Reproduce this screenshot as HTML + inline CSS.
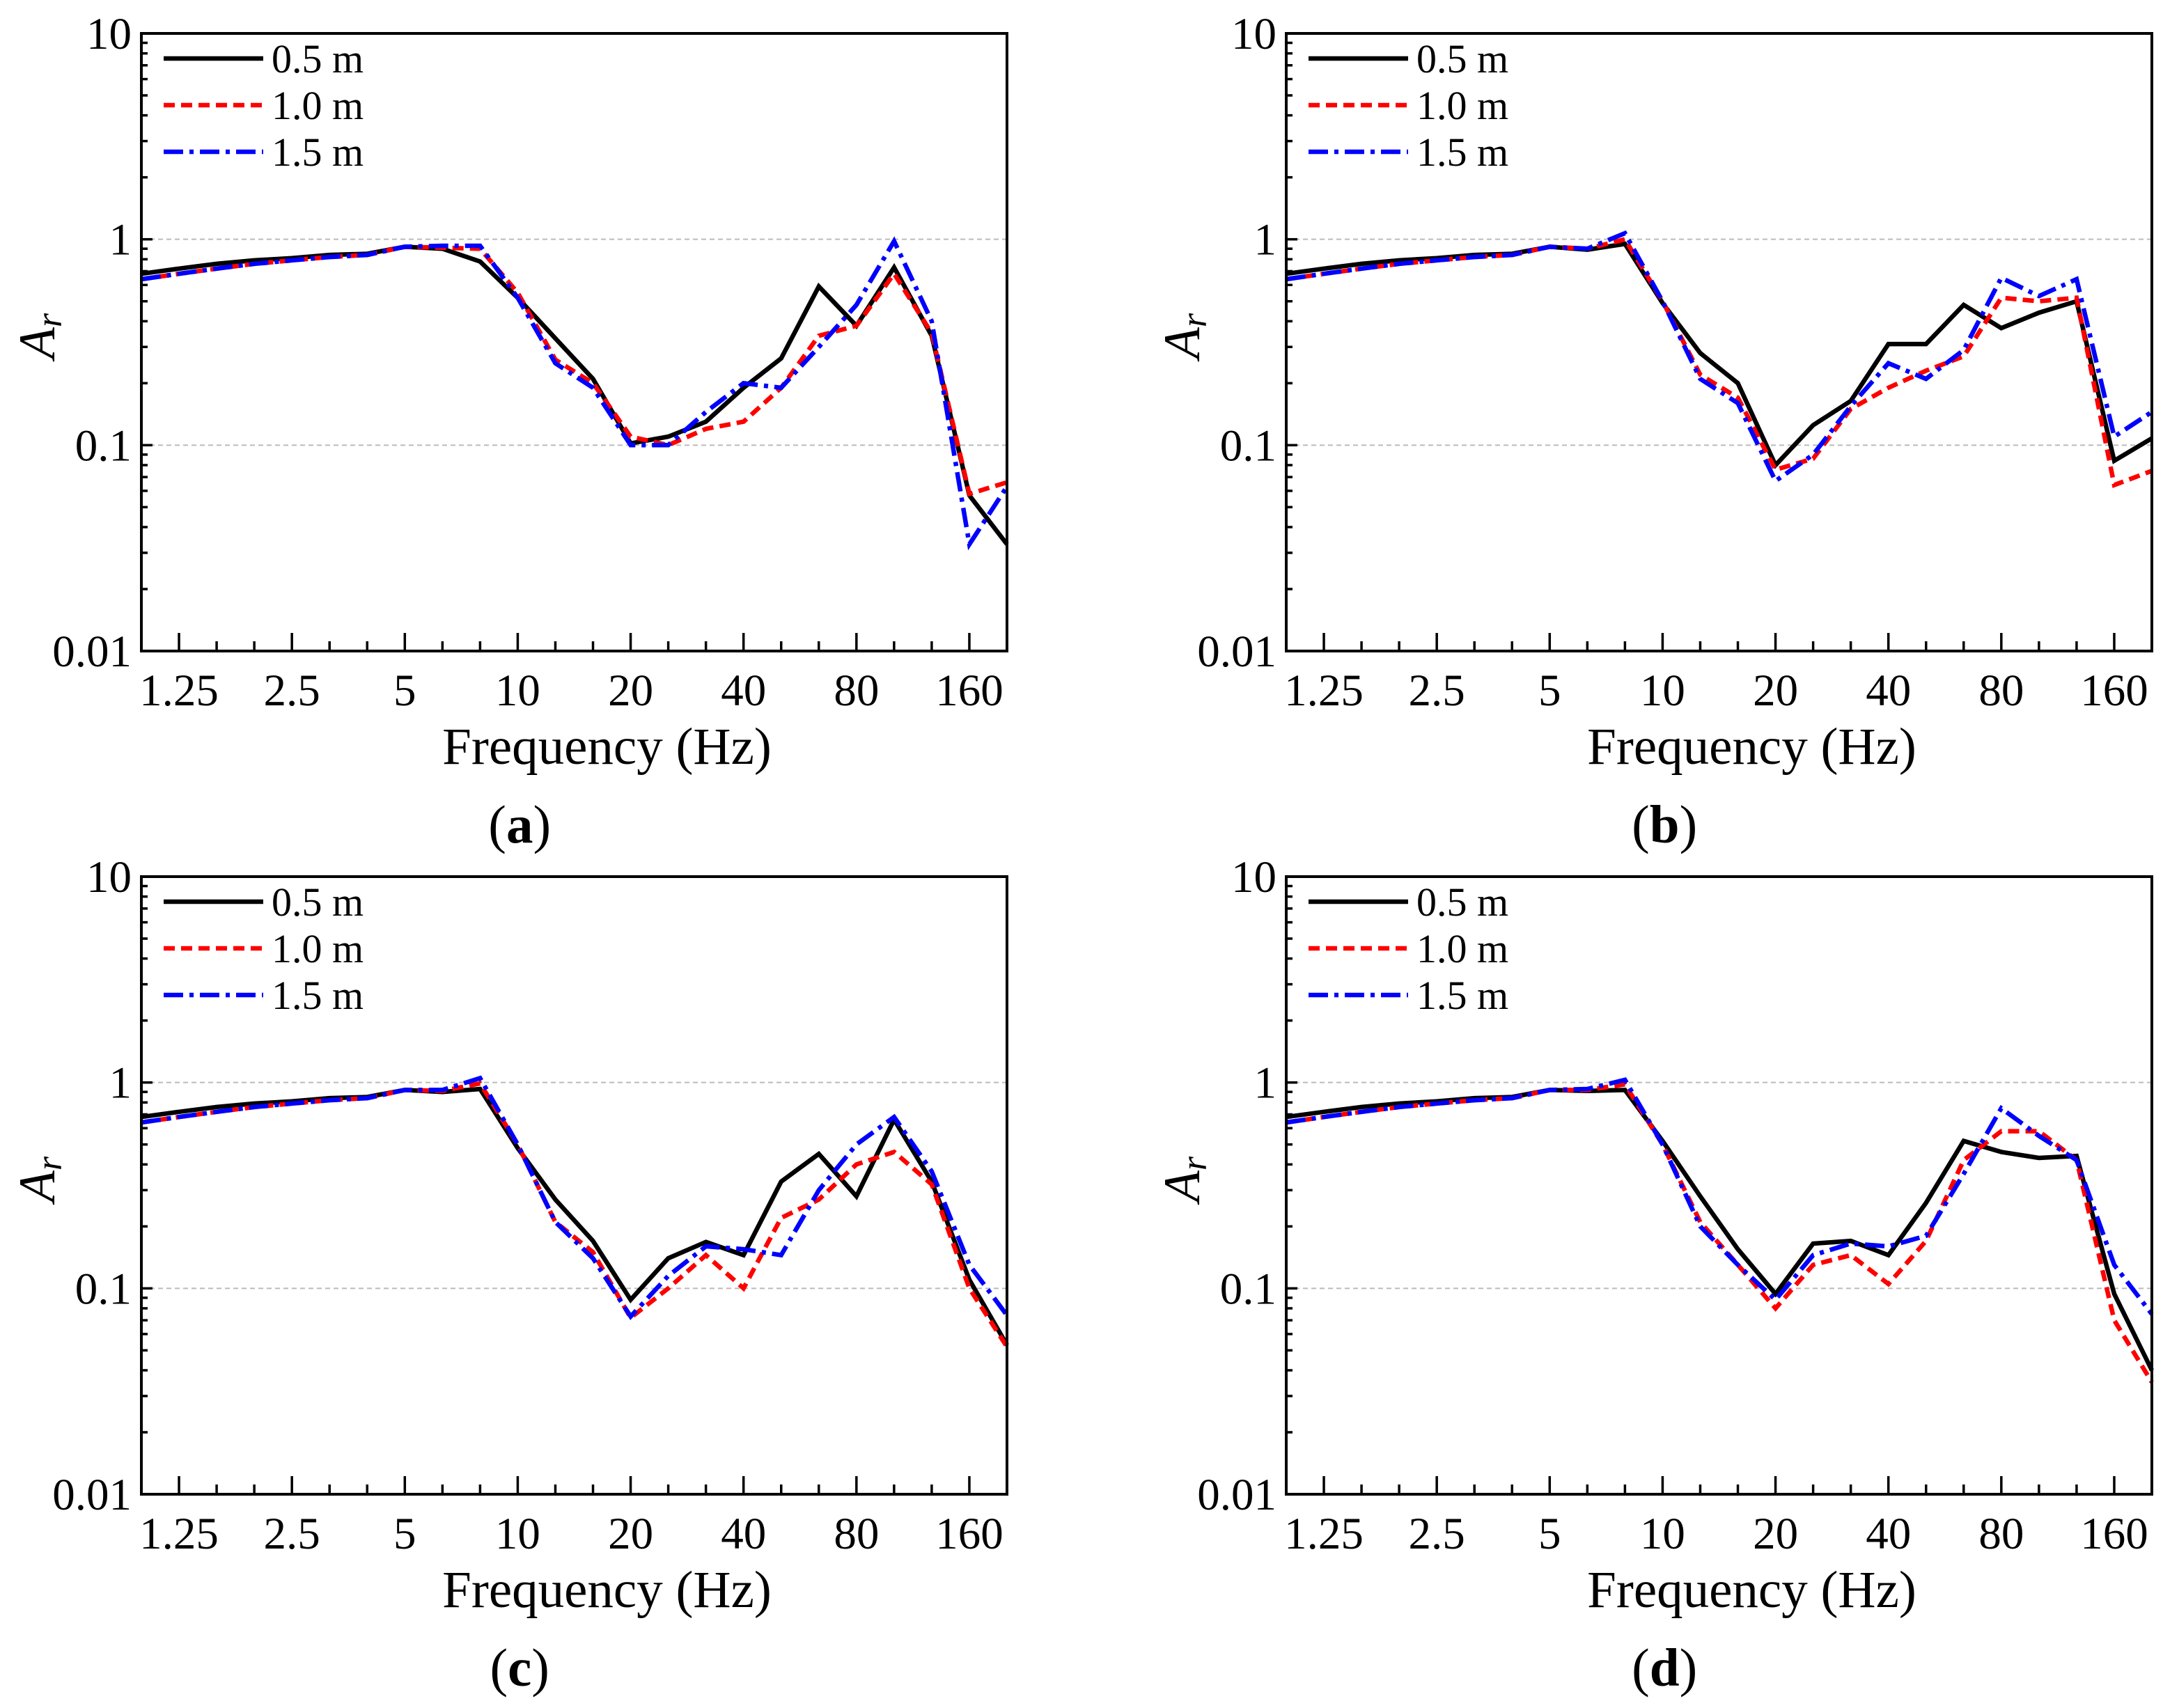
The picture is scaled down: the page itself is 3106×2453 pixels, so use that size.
<!DOCTYPE html>
<html><head><meta charset="utf-8"><style>
html,body{margin:0;padding:0;background:#fff;overflow:hidden}
svg{display:block}
text{font-family:"Liberation Serif",serif;fill:#000}
</style></head><body>
<svg id="chart" width="3106" height="2453" viewBox="0 0 3106 2453" xmlns="http://www.w3.org/2000/svg"></svg>
<script>
const freqs = ["1","1.25","1.6","2","2.5","3.15","4","5","6.3","8","10","12.5","16","20","25","31.5","40","50","63","80","100","125","160","200"];
const xTickLabels = ["1.25","2.5","5","10","20","40","80","160"];
const yTickValues = [0.01,0.1,1,10];
const yTickLabels = ["0.01","0.1","1","10"];
const seriesNames = ["0.5 m","1.0 m","1.5 m"];
const lowBlack = [0.68,0.72,0.76,0.79,0.81,0.84,0.85,0.92];
const lowOther = [0.64,0.68,0.72,0.76,0.79,0.82,0.84,0.92];
const aBlack = lowBlack.concat([0.90,0.78,0.52,0.33,0.21,0.102,0.11,0.13,0.19,0.264,0.59,0.38,0.73,0.34,0.057,0.033]);
const aRed   = lowOther.concat([0.91,0.90,0.55,0.26,0.20,0.11,0.10,0.12,0.13,0.19,0.34,0.38,0.68,0.35,0.058,0.066]);
const aBlue  = lowOther.concat([0.93,0.93,0.52,0.25,0.19,0.10,0.10,0.145,0.20,0.19,0.30,0.48,0.98,0.40,0.033,0.063]);
const bBlack = lowBlack.concat([0.89,0.95,0.49,0.28,0.20,0.08,0.125,0.164,0.31,0.31,0.48,0.37,0.44,0.50,0.084,0.108]);
const bRed   = lowOther.concat([0.90,1.00,0.50,0.22,0.17,0.076,0.086,0.15,0.19,0.23,0.27,0.52,0.50,0.52,0.064,0.075]);
const bBlue  = lowOther.concat([0.90,1.07,0.50,0.21,0.16,0.067,0.09,0.155,0.25,0.21,0.29,0.65,0.53,0.64,0.11,0.145]);
const cBlack = lowBlack.concat([0.90,0.93,0.48,0.27,0.17,0.088,0.14,0.168,0.145,0.33,0.45,0.28,0.66,0.33,0.11,0.053]);
const cRed   = lowOther.concat([0.91,0.99,0.50,0.21,0.15,0.072,0.10,0.145,0.10,0.22,0.27,0.40,0.46,0.32,0.10,0.052]);
const cBlue  = lowOther.concat([0.92,1.05,0.50,0.21,0.14,0.073,0.115,0.16,0.155,0.145,0.30,0.50,0.68,0.37,0.13,0.074]);
const dBlack = lowBlack.concat([0.91,0.92,0.52,0.28,0.155,0.094,0.165,0.17,0.145,0.26,0.52,0.46,0.43,0.44,0.094,0.04]);
const dRed   = lowOther.concat([0.92,0.98,0.50,0.21,0.13,0.08,0.13,0.145,0.105,0.17,0.42,0.58,0.58,0.42,0.07,0.035]);
const dBlue  = lowOther.concat([0.93,1.03,0.50,0.20,0.13,0.088,0.145,0.165,0.16,0.18,0.36,0.75,0.55,0.42,0.13,0.075]);

const panels = [
  {id:"a", ox:203, oy:48, data:[aBlack,aRed,aBlue]},
  {id:"b", ox:1847, oy:48, data:[bBlack,bRed,bBlue]},
  {id:"c", ox:203, oy:1259, data:[cBlack,cRed,cBlue]},
  {id:"d", ox:1847, oy:1259, data:[dBlack,dRed,dBlue]}
];
const W = 1243, H = 887;
const styles = [
  {color:"#000", dash:"", w:6.5},
  {color:"#ff0000", dash:"16,9", w:6.5},
  {color:"#0000ff", dash:"28,9,6,9", w:6.5}
];
const NS = "http://www.w3.org/2000/svg";
const svg = document.getElementById("chart");
function mk(tag, attrs, parent){const e=document.createElementNS(NS,tag);for(const k in attrs)e.setAttribute(k,attrs[k]);parent.appendChild(e);return e;}

panels.forEach(p=>{
  const g = mk("g",{},svg);
  
  
  const xs = i => p.ox + i*W/(freqs.length-1);
  const ys = v => p.oy + (1 - Math.log10(v)) * H/3;
  [0.1,1].forEach(v=>{
    const l = mk("line",{x1:p.ox,x2:p.ox+W,y1:ys(v),y2:ys(v),stroke:"#bbb","stroke-width":2,"stroke-dasharray":"7,5"},g);
    
    
  });
  for(let d=-2; d<1; d++){
    for(let m=1;m<10;m++){
      const v = m*Math.pow(10,d);
      const len = m===1?16:9;
      mk("line",{x1:p.ox,x2:p.ox+len,y1:ys(v),y2:ys(v),stroke:"#000","stroke-width":3.5},g);
    }
  }
  yTickValues.forEach((v,i)=>{
    const t = mk("text",{x:p.ox-14,y:ys(v)+22,"font-size":65,"text-anchor":"end"},g);
    t.textContent = yTickLabels[i];
    
    
  });
  freqs.forEach((f,i)=>{
    if(i===0||i===freqs.length-1) return;
    const major = (i-1)%3===0;
    mk("line",{x1:xs(i),x2:xs(i),y1:p.oy+H,y2:p.oy+H-(major?26:14),stroke:"#000","stroke-width":3.5},g);
  });
  xTickLabels.forEach((lab,k)=>{
    const i = 1+3*k;
    const t = mk("text",{x:xs(i),y:p.oy+H+78,"font-size":65,"text-anchor":"middle"},g);
    t.textContent = lab;
    
    
  });
  p.data.forEach((arr,s)=>{
    const pts = arr.map((v,i)=>xs(i).toFixed(1)+","+ys(v).toFixed(1)).join(" ");
    const pl = mk("polyline",{points:pts,fill:"none",stroke:styles[s].color,"stroke-width":styles[s].w,"stroke-dasharray":styles[s].dash,"stroke-linejoin":"miter"},g);
    
    
  });
  const fr = mk("rect",{x:p.ox,y:p.oy,width:W,height:H,fill:"none",stroke:"#000","stroke-width":4},g);
  
  
  seriesNames.forEach((n,s)=>{
    const ly = p.oy + 36 + s*67;
    const ln = mk("line",{x1:p.ox+32,x2:p.ox+175,y1:ly,y2:ly,stroke:styles[s].color,"stroke-width":styles[s].w,"stroke-dasharray":styles[s].dash},g);
    
    
    const t = mk("text",{x:p.ox+187,y:ly+20,"font-size":58},g);
    t.textContent = n;
    
    
  });
  const xt = mk("text",{x:p.ox+W/2+47,y:p.oy+H+162,"font-size":75,"text-anchor":"middle"},g);
  xt.textContent = "Frequency (Hz)";
  
  
  const yt = mk("text",{transform:`translate(${p.ox-125},${p.oy+H*0.49}) rotate(-90)`,"font-size":74,"text-anchor":"middle","font-style":"italic"},g);
  yt.innerHTML = 'A<tspan font-size="52" dy="10">r</tspan>';
  
  
  const pl = mk("text",{x:p.ox+W*0.437,y:p.oy+H+275,"font-size":77,"text-anchor":"middle"},g);
  pl.innerHTML = '(<tspan font-weight="bold">'+p.id+'</tspan>)';
  
  
});
</script>
</body></html>
